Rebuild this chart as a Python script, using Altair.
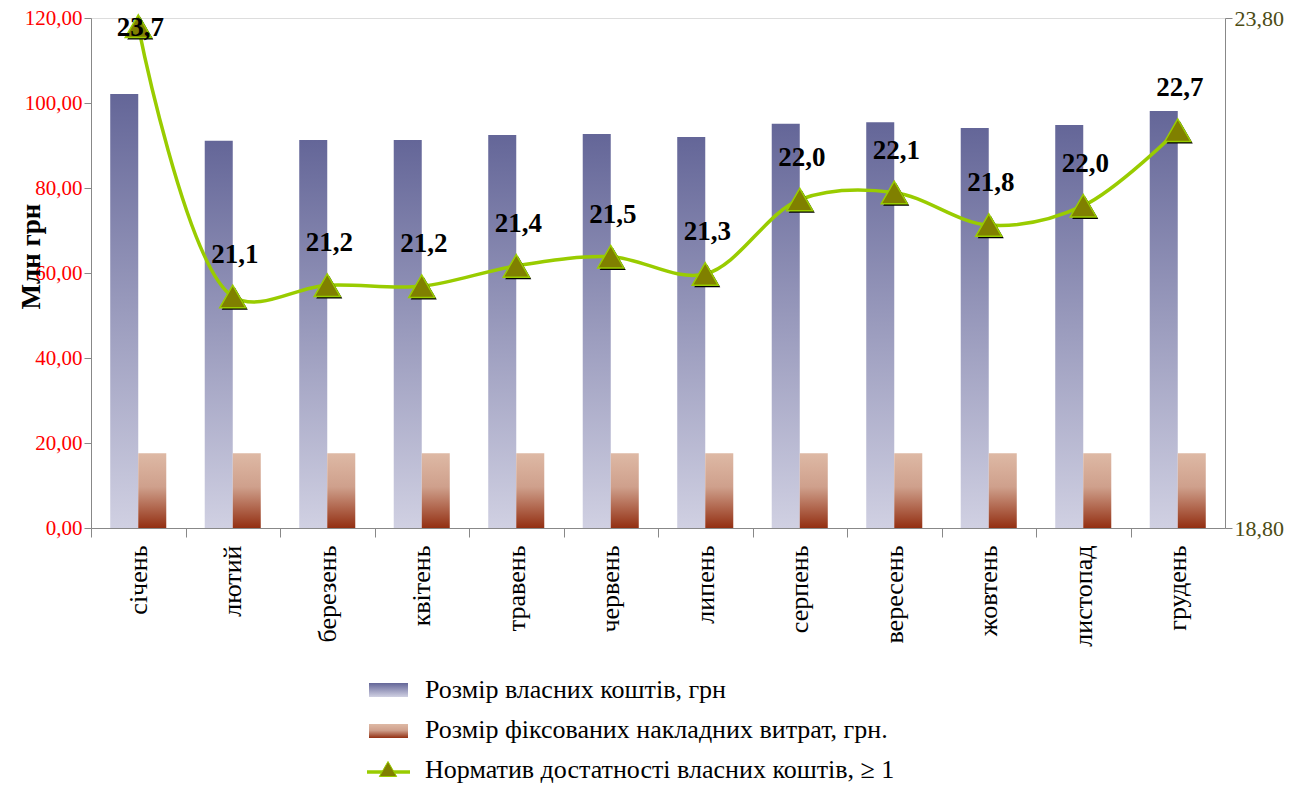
import altair as alt
import pandas as pd

FONT = "Liberation Serif"

months = ["січень", "лютий", "березень", "квітень", "травень", "червень",
          "липень", "серпень", "вересень", "жовтень", "листопад", "грудень"]
own_funds = [102.1, 91.1, 91.3, 91.3, 92.5, 92.7, 92.0, 95.1, 95.5, 94.1, 94.8, 98.1]
overhead = [17.6, 17.6, 17.6, 17.6, 17.6, 17.6, 17.6, 17.6, 17.6, 17.6, 17.6, 17.6]
ratio = [23.72, 21.07, 21.18, 21.17, 21.37, 21.46, 21.29, 22.02, 22.09, 21.77, 21.96, 22.70]
ratio_labels = ["23,7", "21,1", "21,2", "21,2", "21,4", "21,5",
                "21,3", "22,0", "22,1", "21,8", "22,0", "22,7"]
legend_labels = ["Розмір власних коштів, грн",
                 "Розмір фіксованих накладних витрат, грн.",
                 "Норматив достатності власних коштів, \u2265 1"]

bars_df = pd.DataFrame({
    "month": months * 2,
    "series": ["own"] * 12 + ["over"] * 12,
    "value": own_funds + overhead,
})
ratio_df = pd.DataFrame({"month": months, "ratio": ratio, "label": ratio_labels})

grad_blue = {"gradient": "linear", "x1": 0, "y1": 0, "x2": 0, "y2": 1,
             "stops": [{"offset": 0, "color": "#646698"},
                       {"offset": 1, "color": "#d0d0e2"}]}
grad_brown = {"gradient": "linear", "x1": 0, "y1": 0, "x2": 0, "y2": 1,
              "stops": [{"offset": 0, "color": "#deb9a5"},
                        {"offset": 0.45, "color": "#cfa08c"},
                        {"offset": 1, "color": "#932f12"}]}

comma_fmt = "replace(format(datum.value, '.2f'), '.', ',')"
PAD_IN = 0.407
x_scale = alt.Scale(paddingInner=PAD_IN, paddingOuter=PAD_IN / 2)
STEP = 1134 / 12
SHIFT = STEP * PAD_IN / 2

# ticks between categories, labels at the category centres
x_axis = alt.Axis(orient="bottom", title=None, labelAngle=-90, labelFontSize=26,
                  labelColor="black", labelFont=FONT, ticks=True, tickSize=9,
                  tickColor="#888888", bandPosition=0,
                  tickOffset=-SHIFT, labelOffset=SHIFT,
                  labelPadding=8, domainColor="#888888", grid=False)
x_enc = alt.X("month:N", sort=months, scale=x_scale, axis=x_axis)

# ---- bars (left axis) ----
bars = alt.Chart(bars_df).mark_bar().encode(
    x=x_enc,
    xOffset=alt.XOffset("series:N", sort=["own", "over"],
                        scale=alt.Scale(paddingInner=0, paddingOuter=0)),
    y=alt.Y("value:Q", scale=alt.Scale(domain=[0, 120], nice=False),
            axis=alt.Axis(values=[0, 20, 40, 60, 80, 100, 120], labelExpr=comma_fmt,
                          labelColor="#ff0000", labelFontSize=21, labelFont=FONT,
                          tickColor="#888888", domainColor="#888888", tickSize=7,
                          grid=False, title="Млн грн", titleFont=FONT, titleFontSize=27,
                          titleFontWeight="bold", titleColor="black", titleX=-60, titleY=238,
                          titleAlign="center", titleBaseline="middle", titleAngle=270)),
    color=alt.condition("datum.series === 'own'", alt.value(grad_blue), alt.value(grad_brown)),
)

# ---- ratio line (right axis) ----
right_axis = alt.Axis(orient="right", values=[18.8, 23.8], labelExpr=comma_fmt,
                      labelColor="#4b4b14", labelFontSize=22, labelFont=FONT,
                      tickColor="#888888", domainColor="#888888", tickSize=7,
                      title=None, grid=False)
r_scale = alt.Scale(domain=[18.8, 23.8], nice=False, zero=False)

base = alt.Chart(ratio_df)
line = base.mark_line(color="#99cc00", strokeWidth=3.5, interpolate="catmull-rom").encode(
    x=x_enc, y=alt.Y("ratio:Q", scale=r_scale, axis=right_axis))
shadow = base.mark_point(shape="triangle-up", size=680, filled=True, color="black",
                         opacity=1, xOffset=2, yOffset=2).encode(
    x=x_enc, y=alt.Y("ratio:Q", scale=r_scale, axis=right_axis))
pts = base.mark_point(shape="triangle-up", size=680, filled=True, fill="#808000",
                      stroke="#99cc00", strokeWidth=1.5, opacity=1).encode(
    x=x_enc, y=alt.Y("ratio:Q", scale=r_scale, axis=right_axis))
labels = base.transform_calculate(
    label_y="min(datum.ratio + 0.41, 23.7)"
).mark_text(font=FONT, fontSize=27, fontWeight="bold", color="black",
            baseline="middle", align="center", dx=2).encode(
    x=x_enc, y=alt.Y("label_y:Q", scale=r_scale, axis=right_axis), text="label:N")

ratio_layer = alt.layer(line, shadow, pts, labels)

# ---- custom legend ----
one = pd.DataFrame({"t": [0]})
leg_rect1 = alt.Chart(one).mark_rect(fill=grad_blue).encode(
    x=alt.value(278), x2=alt.value(317), y=alt.value(665), y2=alt.value(679))
leg_rect2 = alt.Chart(one).mark_rect(fill=grad_brown).encode(
    x=alt.value(278), x2=alt.value(317), y=alt.value(706), y2=alt.value(720))
leg_rule = alt.Chart(one).mark_rule(color="#99cc00", strokeWidth=3.5).encode(
    x=alt.value(276), x2=alt.value(319), y=alt.value(754))
leg_tri = alt.Chart(one).mark_point(shape="triangle-up", size=300, filled=True,
                                    fill="#808000", stroke="#99cc00", strokeWidth=1,
                                    opacity=1).encode(x=alt.value(297), y=alt.value(751))

leg_texts = []
for i, lab in enumerate(legend_labels):
    leg_texts.append(
        alt.Chart(pd.DataFrame({"t": [lab]})).mark_text(
            font=FONT, fontSize=26, align="left", baseline="middle", color="black"
        ).encode(x=alt.value(334), y=alt.value(672 + 40 * i), text="t:N")
    )

legend_layer = alt.layer(leg_rect1, leg_rect2, leg_rule, leg_tri, *leg_texts)

chart = alt.layer(bars, ratio_layer, legend_layer).resolve_scale(
    y="independent"
).properties(
    width=1134, height=510,
    autosize=alt.AutoSizeParams(type="none"),
    padding={"left": 91, "top": 18, "right": 86, "bottom": 257},
).configure_view(stroke=None).configure(background="white")

chart.save("out.html", embed_options={"renderer": "svg", "actions": False})
